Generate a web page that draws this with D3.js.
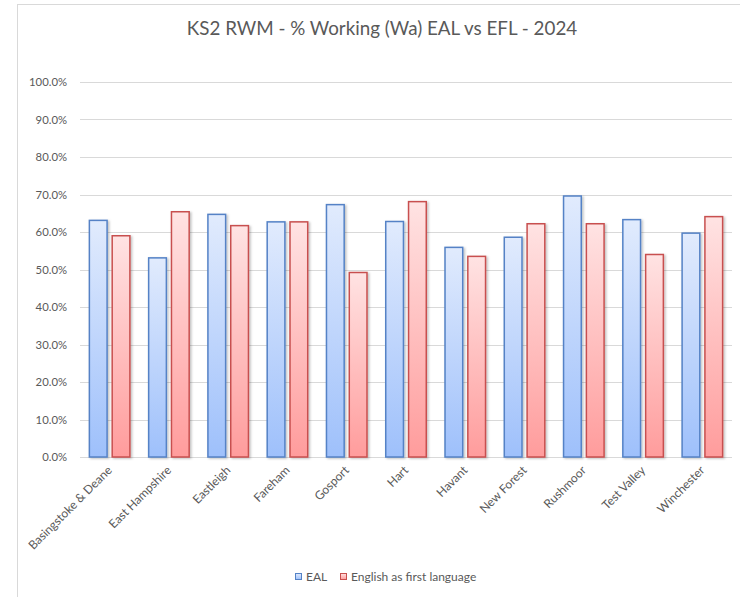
<!DOCTYPE html>
<html>
<head>
<meta charset="utf-8">
<script src="https://cdn.jsdelivr.net/npm/d3@7"></script>
<style>
  body { margin: 0; background: #fff; }
  text { font-family: "Lato", "Open Sans", sans-serif; }
</style>
</head>
<body>
<div id="chart"></div>
<script>
// data
var areas = ["Basingstoke & Deane", "East Hampshire", "Eastleigh", "Fareham", "Gosport",
             "Hart", "Havant", "New Forest", "Rushmoor", "Test Valley", "Winchester"];
var eal = [63.1, 53.1, 64.7, 62.7, 67.3, 62.8, 55.9, 58.6, 69.6, 63.3, 59.7];
var efl = [59.0, 65.4, 61.7, 62.7, 49.2, 68.1, 53.5, 62.2, 62.2, 54.0, 64.1];
var seriesNames = ["EAL", "English as first language"];
var yTicks = [0, 10, 20, 30, 40, 50, 60, 70, 80, 90, 100];

var W = 740, H = 597;
var svg = d3.select("#chart").append("svg")
    .attr("width", W)
    .attr("height", H);

var defs = svg.append("defs");

function grad(id, top, bottom) {
  var g = defs.append("linearGradient")
    .attr("id", id)
    .attr("x1", 0).attr("y1", 0).attr("x2", 0).attr("y2", 1);
  g.append("stop").attr("offset", "0%").attr("stop-color", top);
  g.append("stop").attr("offset", "100%").attr("stop-color", bottom);
}
grad("gBlue", "#e1ebfd", "#9ec0fb");
grad("gRed", "#ffe3e3", "#ff9c9c");

var shadow = defs.append("filter").attr("id", "shadow")
  .attr("x", "-20%").attr("y", "-5%").attr("width", "150%").attr("height", "115%");
shadow.append("feDropShadow")
  .attr("dx", 1.5).attr("dy", 1)
  .attr("stdDeviation", 0.8)
  .attr("flood-color", "#000")
  .attr("flood-opacity", 0.25);

// frame
svg.append("rect")
  .attr("x", 17.5).attr("y", 4.5)
  .attr("width", 740).attr("height", 620)
  .attr("fill", "none")
  .attr("stroke", "#d9d9d9");

// title
svg.append("text")
  .attr("x", 382).attr("y", 35)
  .attr("text-anchor", "middle")
  .attr("font-size", 18.8)
  .attr("fill", "#595959")
  .text("KS2 RWM - % Working (Wa) EAL vs EFL - 2024");

var x0 = d3.scaleBand()
  .domain(areas)
  .range([80, 732])
  .paddingInner(0.291)
  .paddingOuter(0.1455);

var x1 = d3.scaleBand()
  .domain(seriesNames)
  .range([0, x0.bandwidth()])
  .paddingInner(0.158);

var y = d3.scaleLinear()
  .domain([0, 100])
  .range([457, 82]);

// gridlines
svg.append("g")
  .selectAll("line")
  .data(yTicks)
  .join("line")
  .attr("x1", 80).attr("x2", 732)
  .attr("y1", function(d) { return Math.round(y(d)) + 0.5; })
  .attr("y2", function(d) { return Math.round(y(d)) + 0.5; })
  .attr("stroke", "#d9d9d9")
  .attr("stroke-width", 1);

// y labels
svg.append("g")
  .selectAll("text")
  .data(yTicks)
  .join("text")
  .attr("x", 67)
  .attr("y", function(d) { return y(d) + 4; })
  .attr("text-anchor", "end")
  .attr("font-size", 11.3)
  .attr("fill", "#595959")
  .text(function(d) { return d.toFixed(1) + "%"; });

var fills = { "EAL": "url(#gBlue)", "English as first language": "url(#gRed)" };
var strokes = { "EAL": "#5482c6", "English as first language": "#c8504f" };

var rows = areas.map(function(a, i) {
  return { area: a, vals: [{ s: seriesNames[0], v: eal[i] }, { s: seriesNames[1], v: efl[i] }] };
});

var groups = svg.append("g")
  .selectAll("g")
  .data(rows)
  .join("g")
  .attr("transform", function(d) { return "translate(" + x0(d.area) + ",0)"; });

groups.selectAll("rect")
  .data(function(d) { return d.vals; })
  .join("rect")
  .attr("x", function(d) { return x1(d.s) + 0.75; })
  .attr("y", function(d) { return y(d.v); })
  .attr("width", x1.bandwidth() - 1.5)
  .attr("height", function(d) { return y(0) - y(d.v); })
  .attr("fill", function(d) { return fills[d.s]; })
  .attr("stroke", function(d) { return strokes[d.s]; })
  .attr("stroke-width", 1.5)
  .attr("filter", "url(#shadow)");

// x labels rotated
svg.append("g")
  .selectAll("text")
  .data(areas)
  .join("text")
  .attr("transform", function(d) {
    var cx = x0(d) + x0.bandwidth() / 2 + 3;
    return "translate(" + cx + ",471) rotate(-45)";
  })
  .attr("text-anchor", "end")
  .attr("font-size", 12)
  .attr("fill", "#595959")
  .text(function(d) { return d; });

// legend
var legend = svg.append("g");
var lx = [295, 340];
seriesNames.forEach(function(s, i) {
  legend.append("rect")
    .attr("x", lx[i] + 0.5).attr("y", 573.5)
    .attr("width", 6).attr("height", 6)
    .attr("fill", fills[s])
    .attr("stroke", strokes[s])
    .attr("stroke-width", 1);
  legend.append("text")
    .attr("x", lx[i] + 11).attr("y", 581)
    .attr("font-size", 12)
    .attr("fill", "#595959")
    .text(s);
});
</script>
</body>
</html>
